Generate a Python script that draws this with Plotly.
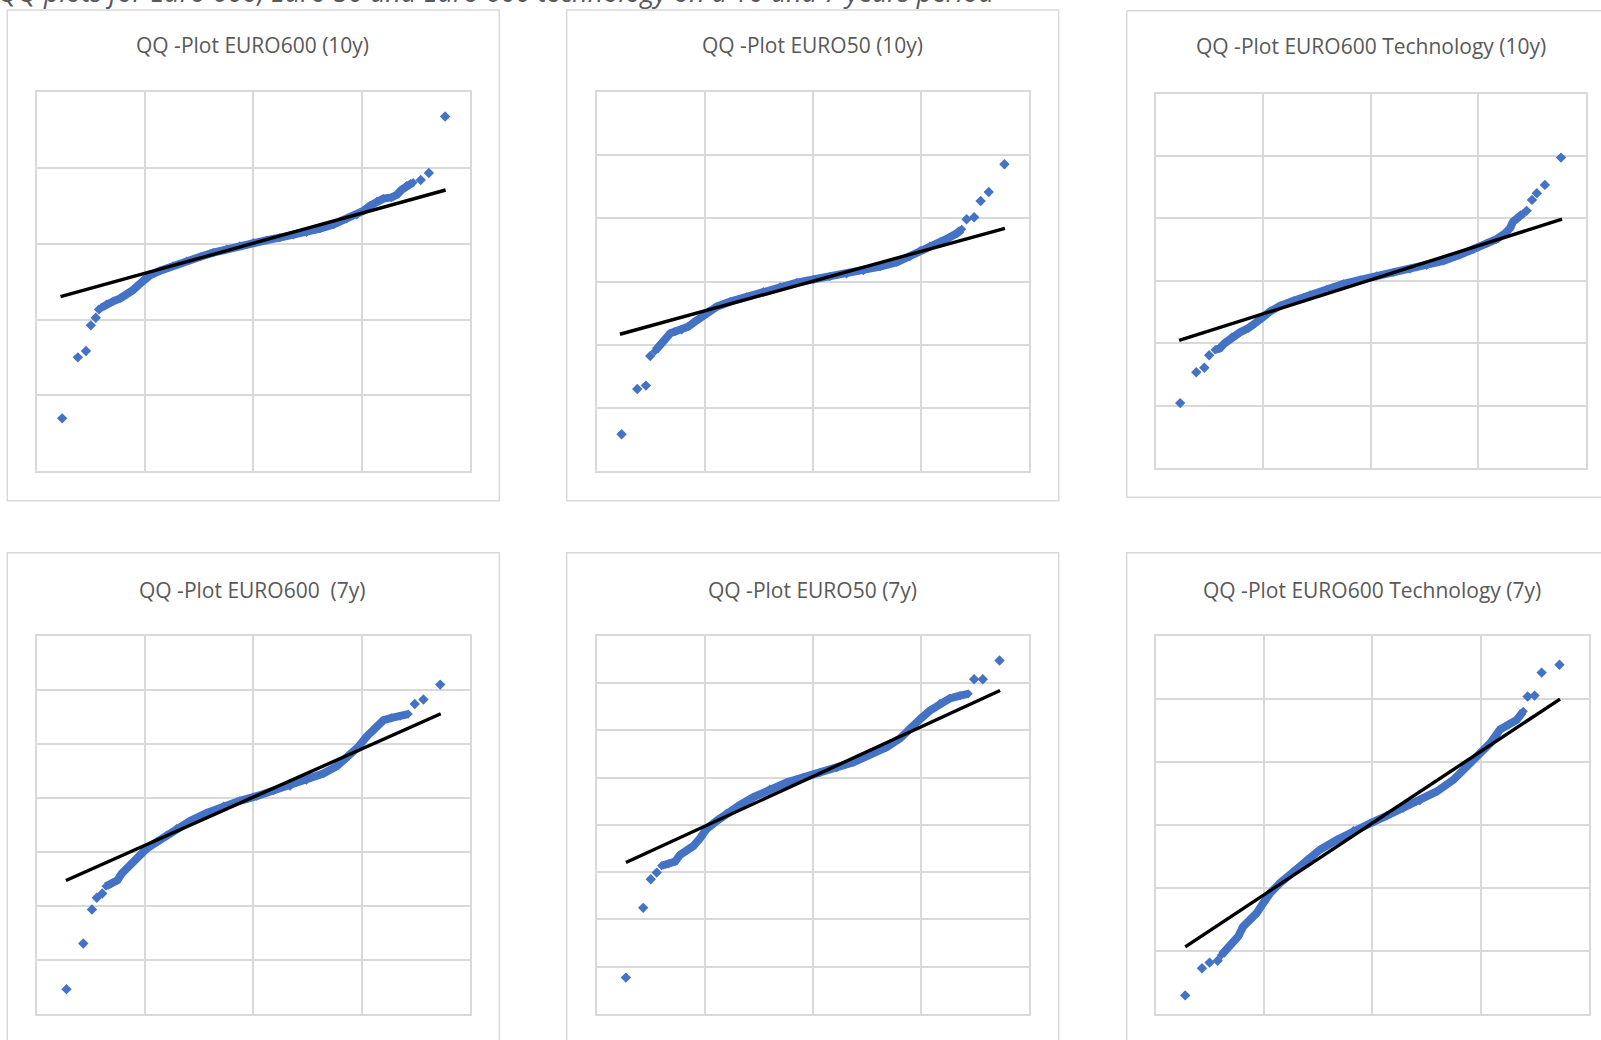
import plotly.graph_objects as go

W, H = 1601, 1040

# ---------------- DATA ----------------
# x = theoretical normal quantile, y = daily return (%)
TITLES = [
    "QQ -Plot EURO600 (10y)",
    "QQ -Plot EURO50 (10y)",
    "QQ -Plot EURO600 Technology (10y)",
    "QQ -Plot EURO600 \u00a0(7y)",
    "QQ -Plot EURO50 (7y)",
    "QQ -Plot EURO600 Technology (7y)",
]
CAPTION = "QQ plots for Euro 600, Euro 50 and Euro 600 technology on a 10 and 7 years period"

# EURO600 10y
e600_10_tail_x = [-3.53, -3.24, -3.09, -3.00, -2.91, -2.85, 3.09, 3.24, 3.54]
e600_10_tail_y = [-11.51, -7.49, -7.07, -5.38, -4.88, -4.33, 4.20, 4.66, 8.39]
e600_10_band_x = [-2.80, -2.71, -2.58, -2.46, -2.34, -2.22, -2.12, -2.03, -1.91, -1.72, -1.48, -1.23,
                  -0.98, -0.74, -0.49, -0.25, 0.00, 0.25, 0.49, 0.74, 0.98, 1.23, 1.48, 1.72, 1.91,
                  2.03, 2.15, 2.28, 2.40, 2.55, 2.65, 2.74, 2.83, 2.95]
e600_10_band_y = [-4.20, -3.98, -3.78, -3.60, -3.36, -3.05, -2.72, -2.39, -2.09, -1.78, -1.45, -1.14,
                  -0.86, -0.59, -0.35, -0.13, 0.07, 0.24, 0.40, 0.57, 0.75, 0.99, 1.27, 1.63, 1.89,
                  2.17, 2.50, 2.79, 2.97, 3.05, 3.23, 3.56, 3.84, 4.04]
e600_10_fit_x = [-3.56, 3.55]
e600_10_fit_y = [-3.49, 3.54]

# EURO50 10y
e50_10_tail_x = [-3.54, -3.25, -3.09, -3.01, 2.84, 2.98, 3.10, 3.25, 3.54]
e50_10_tail_y = [-12.07, -8.49, -8.22, -5.88, 4.93, 5.09, 6.38, 7.09, 9.28]
e50_10_band_x = [-2.92, -2.83, -2.74, -2.64, -2.55, -2.43, -2.31, -2.18, -2.06, -1.94, -1.78, -1.53,
                 -1.23, -0.92, -0.61, -0.30, 0.01, 0.31, 0.62, 0.93, 1.24, 1.55, 1.79, 1.98, 2.16,
                 2.35, 2.53, 2.66, 2.75]
e50_10_band_y = [-5.48, -5.01, -4.56, -4.09, -3.95, -3.82, -3.56, -3.16, -2.77, -2.37, -1.98, -1.58,
                 -1.19, -0.79, -0.40, -0.08, 0.18, 0.40, 0.61, 0.87, 1.19, 1.53, 1.98, 2.45, 2.82,
                 3.16, 3.51, 3.82, 4.14]
e50_10_fit_x = [-3.57, 3.55]
e50_10_fit_y = [-4.16, 4.22]

# EURO600 Technology 10y
tech_10_tail_x = [-3.55, -3.25, -3.10, -3.01, 2.90, 3.00, 3.09, 3.24, 3.54]
tech_10_tail_y = [-9.80, -7.32, -6.97, -5.96, 5.61, 6.49, 7.02, 7.69, 9.88]
tech_10_band_x = [-2.90, -2.81, -2.72, -2.59, -2.44, -2.28, -2.16, -2.03, -1.88, -1.69, -1.44, -1.13,
                  -0.82, -0.51, -0.20, 0.11, 0.42, 0.73, 1.04, 1.35, 1.66, 1.91, 2.16, 2.34, 2.50,
                  2.59, 2.65, 2.75, 2.84]
tech_10_band_y = [-5.53, -5.40, -4.99, -4.51, -4.14, -3.79, -3.45, -2.99, -2.46, -2.00, -1.60, -1.12,
                  -0.67, -0.24, 0.08, 0.40, 0.67, 0.93, 1.23, 1.60, 2.08, 2.54, 3.02, 3.34, 3.82,
                  4.22, 4.75, 5.15, 5.42]
tech_10_fit_x = [-3.57, 3.56]
tech_10_fit_y = [-4.78, 4.94]

# EURO600 7y
e600_7_tail_x = [-3.45, -3.14, -2.98, -2.89, -2.79, 2.98, 3.14, 3.45]
e600_7_tail_y = [-7.08, -5.39, -4.13, -3.70, -3.54, 3.47, 3.64, 4.19]
e600_7_band_x = [-2.72, -2.62, -2.51, -2.43, -2.34, -2.22, -2.09, -1.97, -1.78, -1.60, -1.42, -1.17,
                 -0.86, -0.55, -0.25, 0.06, 0.37, 0.68, 0.98, 1.29, 1.54, 1.75, 1.94, 2.09, 2.25,
                 2.40, 2.55, 2.71, 2.86]
e600_7_band_y = [-3.27, -3.17, -3.05, -2.80, -2.62, -2.37, -2.12, -1.88, -1.63, -1.38, -1.14, -0.86,
                 -0.56, -0.30, -0.11, 0.06, 0.26, 0.43, 0.65, 0.90, 1.17, 1.52, 1.89, 2.26, 2.60,
                 2.87, 2.96, 3.02, 3.10]
e600_7_fit_x = [-3.46, 3.46]
e600_7_fit_y = [-3.06, 3.11]

# EURO50 7y
e50_7_tail_x = [-3.46, -3.14, -3.00, -2.89, 2.98, 3.14, 3.45]
e50_7_tail_y = [-8.46, -5.51, -4.30, -4.02, 4.16, 4.16, 4.95]
e50_7_band_x = [-2.80, -2.67, -2.55, -2.46, -2.34, -2.21, -2.09, -1.97, -1.78, -1.60, -1.35, -1.10,
                -0.80, -0.49, -0.18, 0.13, 0.44, 0.75, 1.05, 1.36, 1.61, 1.79, 1.98, 2.16, 2.35,
                2.53, 2.72, 2.87]
e50_7_band_y = [-3.73, -3.65, -3.55, -3.27, -3.09, -2.89, -2.57, -2.18, -1.83, -1.51, -1.16, -0.83,
                -0.49, -0.21, 0.01, 0.21, 0.42, 0.65, 0.96, 1.28, 1.66, 2.09, 2.47, 2.83, 3.14,
                3.35, 3.47, 3.54]
e50_7_fit_x = [-3.46, 3.46]
e50_7_fit_y = [-3.59, 3.68]

# EURO600 Technology 7y
tech_7_tail_x = [-3.46, -3.15, -3.01, -2.86, 2.87, 3.00, 3.13, 3.46]
tech_7_tail_y = [-5.41, -4.55, -4.37, -4.31, 4.07, 4.10, 4.83, 5.08]
tech_7_band_x = [-2.79, -2.69, -2.57, -2.48, -2.39, -2.26, -2.14, -2.02, -1.89, -1.71, -1.46, -1.21,
                 -0.97, -0.66, -0.35, -0.04, 0.27, 0.57, 0.88, 1.19, 1.50, 1.74, 1.99, 2.18, 2.36,
                 2.51, 2.67, 2.79]
tech_7_band_y = [-4.13, -3.92, -3.70, -3.54, -3.23, -3.02, -2.80, -2.49, -2.17, -1.85, -1.48, -1.11,
                 -0.79, -0.48, -0.18, 0.05, 0.29, 0.53, 0.77, 1.06, 1.43, 1.85, 2.28, 2.59, 3.02,
                 3.17, 3.33, 3.60]
tech_7_fit_x = [-3.46, 3.47]
tech_7_fit_y = [-3.87, 3.99]

# axis ranges (y in %)
X_RANGE = [-4, 4]
X_DTICK = 2
Y_RANGES = [[-15, 10], [-15, 15], [-15, 15], [-8, 6], [-10, 6], [-6, 6]]
Y_DTICKS = [5, 5, 5, 2, 2, 2]

panels = [
    (e600_10_tail_x, e600_10_tail_y, e600_10_band_x, e600_10_band_y, e600_10_fit_x, e600_10_fit_y),
    (e50_10_tail_x, e50_10_tail_y, e50_10_band_x, e50_10_band_y, e50_10_fit_x, e50_10_fit_y),
    (tech_10_tail_x, tech_10_tail_y, tech_10_band_x, tech_10_band_y, tech_10_fit_x, tech_10_fit_y),
    (e600_7_tail_x, e600_7_tail_y, e600_7_band_x, e600_7_band_y, e600_7_fit_x, e600_7_fit_y),
    (e50_7_tail_x, e50_7_tail_y, e50_7_band_x, e50_7_band_y, e50_7_fit_x, e50_7_fit_y),
    (tech_7_tail_x, tech_7_tail_y, tech_7_band_x, tech_7_band_y, tech_7_fit_x, tech_7_fit_y),
]

# ---------------- LAYOUT (pixel geometry) ----------------
PLOT_PX = [  # x0, x1, y0(top), y1(bottom)
    (36.7, 470.0, 92.0, 471.3),
    (596.7, 1029.3, 92.0, 471.3),
    (1156.0, 1585.7, 93.7, 468.0),
    (36.7, 470.0, 635.7, 1014.0),
    (596.7, 1029.3, 635.7, 1014.0),
    (1156.0, 1588.7, 635.7, 1014.0),
]
BOX_PX = [
    (7.3, 499.3, 10.0, 500.7),
    (566.7, 1058.7, 10.0, 500.7),
    (1126.7, 1620.0, 10.7, 497.3),
    (7.3, 499.3, 552.7, 1060.0),
    (566.7, 1058.7, 552.7, 1060.0),
    (1126.7, 1620.0, 552.7, 1060.0),
]
TITLE_PX = [(252.8, 45.5), (812.8, 45.5), (1371.0, 46.5), (252.8, 590.0), (812.8, 590.0), (1372.0, 590.0)]

GRID = "#d9d9d9"
BLUE = "#4472C4"
TXT = "#595959"
FONT = "Open Sans"


def px_x(v):
    return v / W


def px_y(v):
    return 1 - v / H


fig = go.Figure()
layout = dict(
    width=W, height=H,
    margin=dict(l=0, r=0, t=0, b=0),
    paper_bgcolor="white", plot_bgcolor="white",
    showlegend=False,
    shapes=[], annotations=[],
)

for i, (tx, ty, bx, by, fx, fy) in enumerate(panels):
    n = i + 1
    xa = "x" if n == 1 else f"x{n}"
    ya = "y" if n == 1 else f"y{n}"
    x0, x1, y0, y1 = PLOT_PX[i]
    common = dict(showticklabels=False, ticks="", showgrid=True, gridcolor=GRID, gridwidth=1.8,
                  zeroline=False, showline=True, linecolor=GRID, linewidth=1.8, mirror=True,
                  fixedrange=True)
    layout["xaxis" if n == 1 else f"xaxis{n}"] = dict(
        domain=[px_x(x0), px_x(x1)], range=X_RANGE, dtick=X_DTICK, tick0=0,
        anchor=ya, **common)
    layout["yaxis" if n == 1 else f"yaxis{n}"] = dict(
        domain=[px_y(y1), px_y(y0)], range=Y_RANGES[i], dtick=Y_DTICKS[i], tick0=0,
        anchor=xa, **common)

    fig.add_trace(go.Scatter(x=bx, y=by, mode="lines+markers", xaxis=xa, yaxis=ya,
                             line=dict(color=BLUE, width=8),
                             marker=dict(symbol="diamond", size=7, color=BLUE, line=dict(width=0)),
                             hoverinfo="skip"))
    fig.add_trace(go.Scatter(x=tx, y=ty, mode="markers", xaxis=xa, yaxis=ya,
                             marker=dict(symbol="diamond", size=8, color=BLUE, line=dict(width=0)),
                             hoverinfo="skip"))
    fig.add_trace(go.Scatter(x=fx, y=fy, mode="lines", xaxis=xa, yaxis=ya,
                             line=dict(color="black", width=3.4), hoverinfo="skip"))

    bx0, bx1, by0, by1 = BOX_PX[i]
    layout["shapes"].append(dict(type="rect", xref="paper", yref="paper",
                                 x0=px_x(bx0), x1=px_x(bx1), y0=px_y(by1), y1=px_y(by0),
                                 line=dict(color=GRID, width=1.5), layer="below"))
    cx, cy = TITLE_PX[i]
    layout["annotations"].append(dict(text=TITLES[i], xref="paper", yref="paper",
                                      x=px_x(cx), y=px_y(cy), xanchor="center", yanchor="middle",
                                      showarrow=False, font=dict(family=FONT, size=21, color=TXT)))

# figure caption (the reference crop cuts its upper part off)
layout["annotations"].append(dict(text=f"<i>{CAPTION}</i>", xref="paper", yref="paper",
                                  x=px_x(-4), y=px_y(12), xanchor="left", yanchor="bottom",
                                  showarrow=False, font=dict(family=FONT, size=27, color=TXT)))

fig.update_layout(**layout)
fig.write_html("out.html", config={"displayModeBar": False},
               post_script="document.body.style.margin='0';document.body.style.overflow='hidden';")
